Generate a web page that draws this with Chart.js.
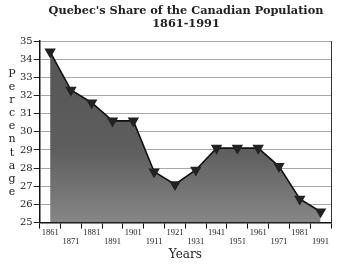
<!DOCTYPE html>
<html>
<head>
<meta charset="utf-8">
<script src="https://cdn.jsdelivr.net/npm/chart.js@4"></script>
<style>
  html, body { margin: 0; padding: 0; background: #fff; }
  #wrap { position: relative; width: 347px; height: 265px; }
  #title {
    position: absolute; left: 30px; top: 4px; width: 312px;
    font: bold 11.3px "DejaVu Serif", serif; color: #222;
    line-height: 13px; text-align: center;
  }
  #ytitle {
    position: absolute; left: 5px; top: 67px; width: 14px;
    font: 11px "DejaVu Serif", serif; color: #222;
    line-height: 13.1px; text-align: center;
  }
</style>
</head>
<body>
<div id="wrap">
  <canvas id="popChart" width="347" height="265"></canvas>
  <div id="title">Quebec's Share of the Canadian Population<br>1861-1991</div>
  <div id="ytitle">P<br>e<br>r<br>c<br>e<br>n<br>t<br>a<br>g<br>e</div>
</div>
<script>
const years = ['1861','1871','1881','1891','1901','1911','1921','1931','1941','1951','1961','1971','1981','1991'];
const shares = [34.4, 32.3, 31.6, 30.6, 30.6, 27.8, 27.1, 27.9, 29.1, 29.1, 29.1, 28.1, 26.3, 25.6];
const yTicks = [25, 26, 27, 28, 29, 30, 31, 32, 33, 34, 35];

document.addEventListener('DOMContentLoaded', function() {
  const rightBorder = {
    id: 'rightBorder',
    afterDraw(chart) {
      const { ctx, chartArea } = chart;
      ctx.save();
      ctx.strokeStyle = '#333';
      ctx.lineWidth = 1;
      ctx.beginPath();
      ctx.moveTo(chartArea.right + 0.5, chartArea.top);
      ctx.lineTo(chartArea.right + 0.5, chartArea.bottom);
      ctx.stroke();
      ctx.restore();
    }
  };

  new Chart(document.getElementById('popChart'), {
    type: 'line',
    data: {
      labels: years,
      datasets: [{
        label: 'Share', data: shares,
        borderColor: '#111', borderWidth: 1.6,
        backgroundColor: function(ctx) {
          const area = ctx.chart.chartArea;
          if (!area) return '#5e5e5e';
          const g = ctx.chart.ctx.createLinearGradient(0, area.top, 0, area.bottom);
          g.addColorStop(0, '#545454');
          g.addColorStop(0.6, '#5e5e5e');
          g.addColorStop(1, '#868686');
          return g;
        },
        fill: 'start', tension: 0,
        pointStyle: 'triangle', rotation: 180, pointRadius: 5,
        pointBackgroundColor: '#222', pointBorderColor: '#222'
      }]
    },
    options: {
      responsive: false, animation: false,
      layout: { padding: { left: 19, right: 16, top: 41, bottom: 3 } },
      plugins: {
        legend: { display: false },
        tooltip: { enabled: false },
        title: { display: false }
      },
      scales: {
        y: {
          min: 25, max: 35,
          afterBuildTicks: axis => { axis.ticks = yTicks.map(v => ({ value: v })); },
          ticks: { font: { family: 'DejaVu Serif', size: 10 }, color: '#222', padding: 1 },
          grid: { color: '#a8a8a8', tickColor: '#222', tickLength: 6 },
          border: { color: '#111', width: 1.5 }
        },
        x: {
          offset: true,
          grid: { offset: true, drawOnChartArea: false, tickColor: '#111', tickLength: 6 },
          border: { color: '#111', width: 1.5 },
          ticks: {
            autoSkip: false, maxRotation: 0, padding: 0,
            font: { family: 'Liberation Serif', size: 8.5, lineHeight: 1.0 }, color: '#222',
            callback: function(v, i) { return i % 2 ? ['', years[i]] : years[i]; }
          },
          title: {
            display: true, text: 'Years',
            font: { family: 'DejaVu Serif', size: 12, lineHeight: 1.2 }, color: '#222', padding: { top: 2, bottom: 0 }
          }
        }
      }
    },
    plugins: [rightBorder]
  });
});
</script>
</body>
</html>
